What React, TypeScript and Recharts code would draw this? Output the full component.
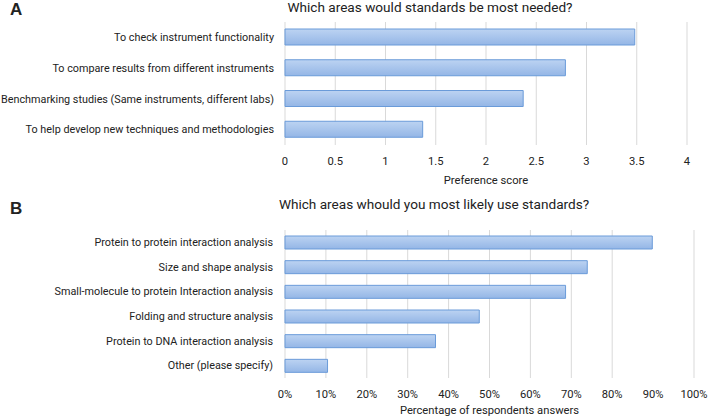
import { BarChart, Bar, XAxis, YAxis, CartesianGrid } from "recharts";

const needCategories = [
  "To check instrument functionality",
  "To compare results from different instruments",
  "Benchmarking studies (Same instruments, different labs)",
  "To help develop new techniques and methodologies",
];
const needScores = [3.48, 2.79, 2.37, 1.37];
const needTicks = [0, 0.5, 1, 1.5, 2, 2.5, 3, 3.5, 4];

const useCategories = [
  "Protein to protein interaction analysis",
  "Size and shape analysis",
  "Small-molecule to protein Interaction analysis",
  "Folding and structure analysis",
  "Protein to DNA interaction analysis",
  "Other (please specify)",
];
const usePercent = [89.8, 73.9, 68.6, 47.5, 36.8, 10.4];
const useTicks = [0, 10, 20, 30, 40, 50, 60, 70, 80, 90, 100];

const needData = needCategories.map((name, i) => ({ name, value: needScores[i] }));
const useData = useCategories.map((name, i) => ({ name, value: usePercent[i] }));

const font = "Roboto, 'Liberation Sans', sans-serif";
const tickStyle = { fontSize: 11.2, fill: "#222", fontFamily: font };

// single-line category label, right aligned against the plot
function CategoryTick(props: any) {
  const { x, y, payload } = props;
  return (
    <text x={x} y={y} dy="0.35em" textAnchor="end" {...tickStyle} fontSize={10.8}>
      {payload.value}
    </text>
  );
}

function BarGradient({ id }: { id: string }) {
  return (
    <defs>
      <linearGradient id={id} x1="0" y1="0" x2="0" y2="1">
        <stop offset="0%" stopColor="#bcd3f2" />
        <stop offset="100%" stopColor="#94b6e6" />
      </linearGradient>
    </defs>
  );
}

export default function App() {
  return (
    <div
      style={{
        position: "absolute",
        left: 0,
        top: 0,
        width: 708,
        height: 417,
        background: "#fff",
        fontFamily: font,
        color: "#222",
      }}
    >
      {/* Panel A */}
      <div style={{ position: "absolute", left: 10, top: 0, fontSize: 17, fontWeight: 700, fontFamily: "'Liberation Sans', Arial, sans-serif" }}>A</div>
      <div style={{ position: "absolute", left: 0, width: 860, top: -1, textAlign: "center", fontSize: 13.6 }}>
        Which areas would standards be most needed?
      </div>
      <div style={{ position: "absolute", left: 0, top: 0 }}>
        <BarChart
          width={708}
          height={190}
          data={needData}
          layout="vertical"
          margin={{ top: 22, right: 21, bottom: 0, left: 0 }}
          barSize={16}
        >
          <BarGradient id="gradA" />
          <CartesianGrid horizontal={false} stroke="#d9d9d9" />
          <XAxis
            type="number"
            domain={[0, 4]}
            ticks={needTicks}
            axisLine={false}
            tickLine={false}
            tickMargin={6}
            height={45}
            tick={tickStyle}
            label={{ value: "Preference score", position: "insideBottom", offset: 6, style: tickStyle }}
          />
          <YAxis
            type="category"
            dataKey="name"
            width={285}
            axisLine={false}
            tickLine={false}
            tickMargin={5}
            tick={<CategoryTick />}
            interval={0}
          />
          <Bar dataKey="value" fill="url(#gradA)" stroke="#6a9bd9" strokeWidth={1} isAnimationActive={false} />
        </BarChart>
      </div>

      {/* Panel B */}
      <div style={{ position: "absolute", left: 10, top: 199, fontSize: 17, fontWeight: 700, fontFamily: "'Liberation Sans', Arial, sans-serif" }}>B</div>
      <div style={{ position: "absolute", left: 0, width: 868, top: 196, textAlign: "center", fontSize: 13.6 }}>
        Which areas whould you most likely use standards?
      </div>
      <div style={{ position: "absolute", left: 0, top: 190 }}>
        <BarChart
          width={708}
          height={227}
          data={useData}
          layout="vertical"
          margin={{ top: 40, right: 14, bottom: 0, left: 0 }}
          barSize={13}
        >
          <BarGradient id="gradB" />
          <CartesianGrid horizontal={false} stroke="#d9d9d9" />
          <XAxis
            type="number"
            domain={[0, 100]}
            ticks={useTicks}
            tickFormatter={(v: number) => `${v}%`}
            axisLine={false}
            tickLine={false}
            tickMargin={6}
            height={39}
            tick={tickStyle}
            label={{ value: "Percentage of respondents answers", position: "insideBottom", offset: 3, style: tickStyle }}
          />
          <YAxis
            type="category"
            dataKey="name"
            width={285}
            axisLine={false}
            tickLine={false}
            tickMargin={6}
            tick={<CategoryTick />}
            interval={0}
          />
          <Bar dataKey="value" fill="url(#gradB)" stroke="#6a9bd9" strokeWidth={1} isAnimationActive={false} />
        </BarChart>
      </div>
    </div>
  );
}
